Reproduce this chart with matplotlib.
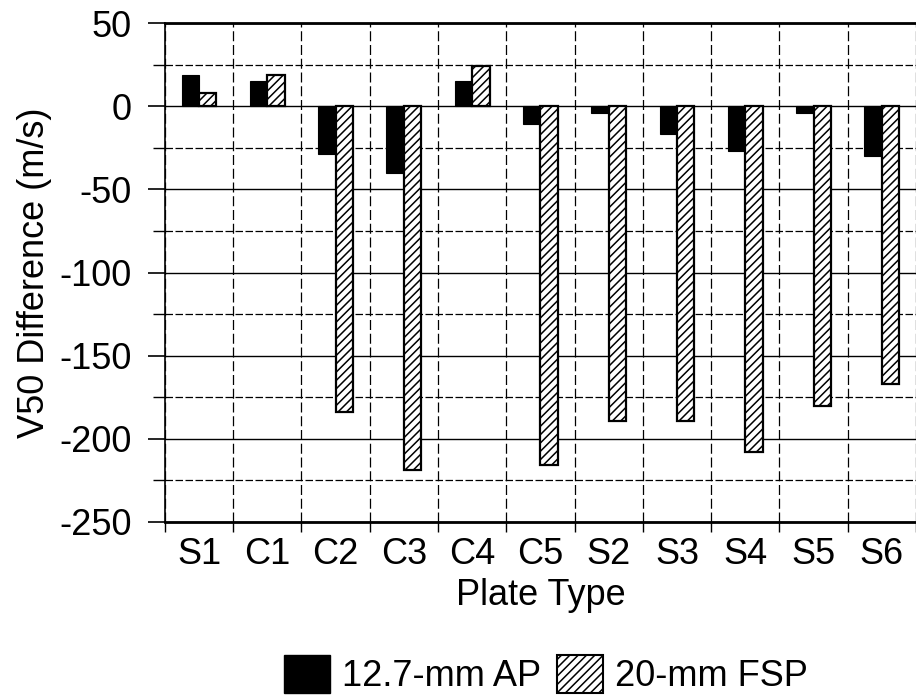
import matplotlib
matplotlib.use("Agg")
import matplotlib.pyplot as plt
import numpy as np
from matplotlib.patches import Patch

plates = ["S1", "C1", "C2", "C3", "C4", "C5", "S2", "S3", "S4", "S5", "S6"]
ap_127 = [19, 15, -29, -40, 15, -11, -4, -17, -27, -4, -30]
fsp_20 = [8, 19, -184, -219, 24, -216, -189, -189, -208, -180, -167]

plt.rcParams["font.family"] = ["Liberation Sans", "DejaVu Sans"]
plt.rcParams["axes.unicode_minus"] = False
plt.rcParams["hatch.linewidth"] = 1.1


def main() -> None:
    fig = plt.figure(figsize=(9.16, 7.0), dpi=100)
    ax = fig.add_axes([0.180, 0.2543, 0.820, 0.7128])

    x = np.arange(len(plates))
    w = 0.255
    ax.bar(x - w / 2, ap_127, width=w, color="black", edgecolor="black",
           linewidth=0.8, zorder=3)
    ax.bar(x + w / 2, fsp_20, width=w, color="white", edgecolor="black",
           linewidth=1.6, hatch="////", zorder=3)

    ax.set_xlim(-0.5, len(plates) - 0.5)
    ax.set_ylim(-250, 50)
    ax.set_yticks(np.arange(-250, 51, 50))
    ax.set_yticks(np.arange(-225, 50, 50), minor=True)
    ax.set_xticks(x)
    ax.set_xticklabels(plates)
    ax.set_xticks(np.arange(-0.5, len(plates), 1.0), minor=True)

    ax.tick_params(axis="both", which="major", labelsize=26, color="black")
    ax.tick_params(axis="x", which="major", length=0, pad=11)
    ax.tick_params(axis="x", which="minor", length=7, width=1.0)
    ax.tick_params(axis="y", which="major", length=12, width=1.2, pad=12)
    ax.tick_params(axis="y", which="minor", length=9, width=1.0)

    ax.grid(axis="y", which="major", color="black", linewidth=1.0, zorder=0)
    ax.grid(axis="y", which="minor", color="black", linewidth=0.9,
            linestyle=(0, (6, 2)), zorder=0)
    ax.grid(axis="x", which="minor", color="black", linewidth=0.9,
            linestyle=(0, (8, 3)), zorder=0)
    ax.set_axisbelow(True)

    ax.spines["right"].set_visible(False)
    ax.spines["top"].set_linewidth(2.0)
    ax.spines["bottom"].set_linewidth(2.0)
    ax.spines["left"].set_linewidth(1.2)

    ax.set_xlabel("Plate Type", fontsize=26, labelpad=4)
    ax.set_ylabel("V50 Difference (m/s)", fontsize=26)
    ax.yaxis.set_label_coords(-0.150, 0.5)

    handles = [
        Patch(facecolor="black", edgecolor="black", label="12.7-mm AP"),
        Patch(facecolor="white", edgecolor="black", hatch="////",
              linewidth=1.5, label="20-mm FSP"),
    ]
    fig.legend(handles=handles, loc="center", bbox_to_anchor=(0.596, 0.036),
               ncol=2, frameon=False, fontsize=26, handlelength=1.28,
               handleheight=1.22, handletextpad=0.33, columnspacing=0.42)

    fig.savefig("out.png", dpi=100)


if __name__ == "__main__":
    main()
